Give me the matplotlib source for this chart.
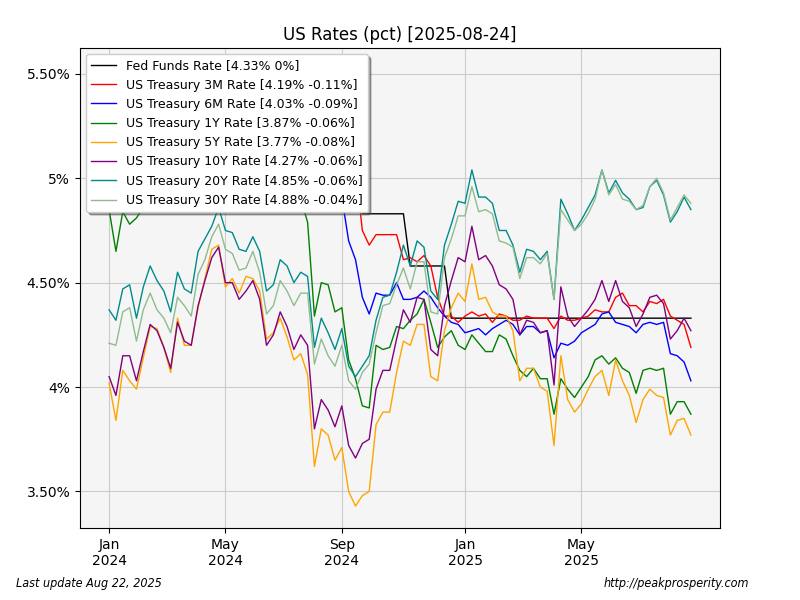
#!/usr/bin/env python3
"""US Rates weekly chart (pct), Jan 2024 - Aug 2025."""

import numpy as np
import matplotlib
matplotlib.use('Agg')
import matplotlib.pyplot as plt
from matplotlib.ticker import FuncFormatter

plt.rcParams['figure.dpi'] = 100
plt.rcParams['font.size'] = 10

# weekly observations (Fridays), 2024-01-05 .. 2025-08-22
fed_funds = [
    5.33, 5.33, 5.33, 5.33, 5.33, 5.33, 5.33, 5.33, 5.33, 5.33,
    5.33, 5.33, 5.33, 5.33, 5.33, 5.33, 5.33, 5.33, 5.33, 5.33,
    5.33, 5.33, 5.33, 5.33, 5.33, 5.33, 5.33, 5.33, 5.33, 5.33,
    5.33, 5.33, 5.33, 5.33, 5.33, 5.33, 5.33, 4.83, 4.83, 4.83,
    4.83, 4.83, 4.83, 4.83, 4.58, 4.58, 4.58, 4.58, 4.58, 4.58,
    4.33, 4.33, 4.33, 4.33, 4.33, 4.33, 4.33, 4.33, 4.33, 4.33,
    4.33, 4.33, 4.33, 4.33, 4.33, 4.33, 4.33, 4.33, 4.33, 4.33,
    4.33, 4.33, 4.33, 4.33, 4.33, 4.33, 4.33, 4.33, 4.33, 4.33,
    4.33, 4.33, 4.33, 4.33, 4.33, 4.33,
]
t3m = [
    5.40, 5.41, 5.42, 5.42, 5.44, 5.44, 5.45, 5.46, 5.46, 5.47,
    5.47, 5.46, 5.46, 5.43, 5.45, 5.45, 5.45, 5.45, 5.45, 5.46,
    5.46, 5.46, 5.46, 5.47, 5.48, 5.48, 5.46, 5.43, 5.43, 5.41,
    5.28, 5.31, 5.28, 5.21, 5.19, 5.12, 5.05, 4.75, 4.68, 4.73,
    4.73, 4.73, 4.73, 4.61, 4.62, 4.60, 4.63, 4.58, 4.43, 4.34,
    4.34, 4.31, 4.34, 4.36, 4.34, 4.35, 4.31, 4.35, 4.34, 4.32,
    4.32, 4.34, 4.33, 4.33, 4.33, 4.28, 4.34, 4.32, 4.32, 4.33,
    4.34, 4.37, 4.36, 4.36, 4.43, 4.45, 4.39, 4.39, 4.36, 4.41,
    4.40, 4.42, 4.34, 4.32, 4.30, 4.19,
]
t6m = [
    5.25, 5.18, 5.20, 5.19, 5.21, 5.23, 5.28, 5.30, 5.29, 5.25,
    5.33, 5.32, 5.32, 5.34, 5.38, 5.39, 5.40, 5.36, 5.36, 5.36,
    5.37, 5.37, 5.37, 5.35, 5.35, 5.33, 5.30, 5.25, 5.21, 5.15,
    4.95, 5.02, 5.00, 4.95, 4.91, 4.70, 4.61, 4.43, 4.35, 4.45,
    4.44, 4.44, 4.50, 4.42, 4.42, 4.43, 4.46, 4.43, 4.38, 4.34,
    4.31, 4.30, 4.26, 4.27, 4.28, 4.25, 4.28, 4.30, 4.32, 4.30,
    4.25, 4.29, 4.29, 4.26, 4.27, 4.14, 4.21, 4.20, 4.22, 4.26,
    4.28, 4.30, 4.35, 4.36, 4.31, 4.30, 4.29, 4.26, 4.30, 4.31,
    4.30, 4.31, 4.16, 4.15, 4.12, 4.03,
]
t1y = [
    4.85, 4.65, 4.84, 4.78, 4.81, 4.86, 4.96, 5.02, 4.97, 4.90,
    5.03, 5.01, 5.03, 5.06, 5.17, 5.19, 5.20, 5.13, 5.16, 5.15,
    5.18, 5.18, 5.18, 5.09, 5.12, 5.09, 5.03, 4.98, 4.90, 4.79,
    4.34, 4.50, 4.49, 4.36, 4.38, 4.13, 4.04, 3.91, 3.90, 4.20,
    4.18, 4.19, 4.29, 4.28, 4.32, 4.35, 4.42, 4.31, 4.19, 4.24,
    4.27, 4.20, 4.18, 4.25, 4.21, 4.17, 4.17, 4.25, 4.23, 4.15,
    4.08, 4.05, 4.09, 4.04, 4.04, 3.87, 4.04, 3.99, 3.95, 4.00,
    4.05, 4.13, 4.15, 4.11, 4.14, 4.09, 4.07, 3.97, 4.08, 4.09,
    4.08, 4.09, 3.87, 3.93, 3.93, 3.87,
]
t5y = [
    4.02, 3.84, 4.08, 4.03, 3.99, 4.14, 4.29, 4.28, 4.19, 4.07,
    4.33, 4.20, 4.20, 4.38, 4.52, 4.66, 4.68, 4.48, 4.52, 4.45,
    4.53, 4.52, 4.46, 4.23, 4.26, 4.33, 4.24, 4.13, 4.16, 4.06,
    3.62, 3.80, 3.77, 3.65, 3.71, 3.50, 3.43, 3.48, 3.50, 3.82,
    3.88, 3.88, 4.07, 4.22, 4.20, 4.30, 4.30, 4.05, 4.03, 4.27,
    4.38, 4.45, 4.41, 4.59, 4.42, 4.43, 4.36, 4.34, 4.34, 4.27,
    4.03, 4.09, 4.09, 4.00, 3.98, 3.72, 4.15, 3.94, 3.88, 3.92,
    3.99, 4.05, 4.08, 3.96, 4.13, 4.03, 3.96, 3.83, 3.94, 3.99,
    3.96, 3.95, 3.77, 3.84, 3.85, 3.77,
]
t10y = [
    4.05, 3.96, 4.15, 4.15, 4.03, 4.17, 4.30, 4.27, 4.19, 4.09,
    4.31, 4.22, 4.20, 4.39, 4.51, 4.62, 4.67, 4.50, 4.50, 4.42,
    4.46, 4.51, 4.42, 4.20, 4.25, 4.36, 4.29, 4.18, 4.25, 4.20,
    3.80, 3.94, 3.89, 3.81, 3.91, 3.72, 3.66, 3.73, 3.75, 3.99,
    4.08, 4.08, 4.23, 4.37, 4.31, 4.43, 4.42, 4.18, 4.15, 4.39,
    4.51, 4.62, 4.60, 4.77, 4.61, 4.63, 4.58, 4.49, 4.47, 4.42,
    4.25, 4.32, 4.31, 4.26, 4.27, 4.01, 4.48, 4.34, 4.29, 4.33,
    4.37, 4.42, 4.51, 4.41, 4.51, 4.41, 4.38, 4.29, 4.35, 4.43,
    4.44, 4.40, 4.23, 4.27, 4.33, 4.27,
]
t20y = [
    4.37, 4.32, 4.47, 4.49, 4.33, 4.48, 4.58, 4.51, 4.46, 4.36,
    4.55, 4.47, 4.45, 4.65, 4.71, 4.77, 4.86, 4.75, 4.74, 4.66,
    4.65, 4.72, 4.65, 4.46, 4.49, 4.61, 4.58, 4.50, 4.55, 4.53,
    4.19, 4.33, 4.26, 4.18, 4.28, 4.10, 4.05, 4.10, 4.15, 4.32,
    4.43, 4.44, 4.55, 4.68, 4.58, 4.70, 4.67, 4.46, 4.42, 4.68,
    4.78, 4.89, 4.88, 5.04, 4.91, 4.91, 4.88, 4.75, 4.75, 4.68,
    4.55, 4.66, 4.65, 4.61, 4.65, 4.42, 4.90, 4.83, 4.75, 4.80,
    4.86, 4.92, 5.04, 4.93, 4.99, 4.93, 4.90, 4.85, 4.86, 4.96,
    4.99, 4.92, 4.79, 4.84, 4.91, 4.85,
]
t30y = [
    4.21, 4.20, 4.36, 4.38, 4.22, 4.37, 4.45, 4.37, 4.33, 4.26,
    4.43, 4.39, 4.34, 4.54, 4.61, 4.72, 4.78, 4.66, 4.64, 4.56,
    4.57, 4.65, 4.55, 4.35, 4.39, 4.51, 4.46, 4.39, 4.45, 4.45,
    4.11, 4.23, 4.15, 4.10, 4.20, 4.03, 3.99, 4.07, 4.11, 4.26,
    4.39, 4.40, 4.49, 4.57, 4.47, 4.60, 4.60, 4.36, 4.35, 4.62,
    4.71, 4.82, 4.82, 4.96, 4.84, 4.85, 4.83, 4.70, 4.69, 4.67,
    4.52, 4.62, 4.62, 4.59, 4.64, 4.42, 4.85, 4.80, 4.75, 4.78,
    4.83, 4.90, 5.04, 4.92, 4.97, 4.90, 4.89, 4.85, 4.87, 4.96,
    5.00, 4.93, 4.80, 4.86, 4.92, 4.88,
]

series_names = [
    'Fed Funds Rate', 'US Treasury 3M Rate', 'US Treasury 6M Rate',
    'US Treasury 1Y Rate', 'US Treasury 5Y Rate', 'US Treasury 10Y Rate',
    'US Treasury 20Y Rate', 'US Treasury 30Y Rate',
]
series_values = [fed_funds, t3m, t6m, t1y, t5y, t10y, t20y, t30y]
series_colors = ['black', 'red', 'blue', 'green', 'orange', 'purple',
                 'darkcyan', 'darkseagreen']

# first week of each labelled month
tick_index = [0, 17, 34, 52, 69]
tick_labels = ['Jan\n2024', 'May\n2024', 'Sep\n2024', 'Jan\n2025', 'May\n2025']


def pct_fmt(v, pos):
    if abs(v - round(v)) < 1e-9:
        return f'{v:.0f}%'
    return f'{v:.2f}%'


def main():
    fig, ax = plt.subplots(figsize=(8, 6))
    fig.subplots_adjust(left=0.1, right=0.9, top=0.92, bottom=0.12)
    ax.set_facecolor('#f5f5f5')

    for name, vals, col in zip(series_names, series_values, series_colors):
        vals = np.array(vals)
        chg = round(vals[-1] - vals[-2], 2)
        label = f'{name} [{vals[-1]:.2f}% {chg:g}%]'
        ax.plot(np.arange(len(vals)), vals, color=col, linewidth=1.0, label=label)

    ax.set_ylim(3.325, 5.624)
    ax.set_yticks([3.5, 4.0, 4.5, 5.0, 5.5])
    ax.yaxis.set_major_formatter(FuncFormatter(pct_fmt))
    ax.set_xticks(tick_index)
    ax.set_xticklabels(tick_labels)
    ax.grid(True, color='#cccccc', linewidth=0.8)
    ax.set_axisbelow(True)

    ax.set_title('US Rates (pct) [2025-08-24]', fontsize=12)
    ax.legend(loc='upper left', shadow=True, fontsize=9, framealpha=1.0)

    # footer notes, narrow italic
    fig.text(0.02, 0.022, 'Last update Aug 22, 2025', style='italic',
             fontsize=9, fontstretch='condensed')
    fig.text(0.937, 0.022, 'http://peakprosperity.com', style='italic',
             fontsize=9, fontstretch='condensed', ha='right')

    fig.savefig('out.png', dpi=100)
    plt.close(fig)


if __name__ == '__main__':
    main()
